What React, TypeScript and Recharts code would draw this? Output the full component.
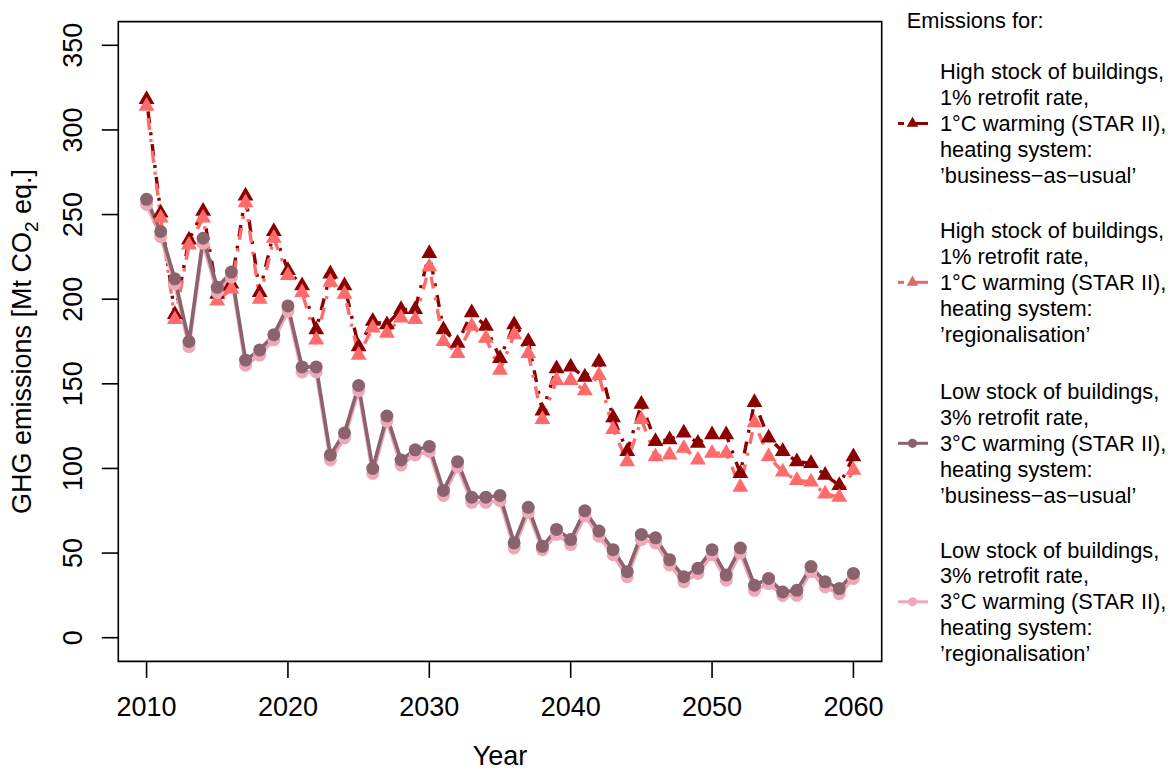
import { LineChart, Line, XAxis, YAxis, ReferenceArea } from "recharts";

// ---- data ----
const years = [
  2010, 2011, 2012, 2013, 2014, 2015, 2016, 2017, 2018, 2019,
  2020, 2021, 2022, 2023, 2024, 2025, 2026, 2027, 2028, 2029,
  2030, 2031, 2032, 2033, 2034, 2035, 2036, 2037, 2038, 2039,
  2040, 2041, 2042, 2043, 2044, 2045, 2046, 2047, 2048, 2049,
  2050, 2051, 2052, 2053, 2054, 2055, 2056, 2057, 2058, 2059, 2060,
];

// high stock, 1% retrofit, 1°C, business-as-usual
const highBau = [
  318, 251, 191, 235, 252, 203, 209, 261, 204, 240,
  217, 208, 182, 215, 208, 172, 187, 185, 194, 194,
  227, 182, 174, 192, 184, 165, 185, 175, 134, 159,
  160, 154, 163, 130, 110, 138, 116, 117, 121, 115,
  120, 120, 97, 139, 118, 110, 104, 103, 96, 90, 107,
];

// high stock, 1% retrofit, 1°C, regionalisation
const highReg = [
  314, 248, 188, 232, 248, 199, 206, 257, 200, 236,
  214, 204, 176, 210, 203, 167, 183, 180, 189, 188,
  219, 175, 168, 184, 177, 158, 179, 168, 129, 152,
  152, 146, 155, 123, 104, 129, 107, 108, 112, 105,
  109, 109, 89, 127, 107, 98, 93, 92, 85, 83, 99,
];

// low stock, 3% retrofit, 3°C, business-as-usual
const lowBau = [
  259, 240, 212, 175, 236, 207, 216, 164, 170, 179,
  196, 160, 160, 108, 121, 149, 100, 131, 105, 111,
  113, 87, 104, 83, 83, 84, 56, 77, 54, 64,
  58, 75, 63, 52, 39, 61, 59, 46, 36, 41,
  52, 37, 53, 31, 35, 27, 28, 42, 33, 29, 38,
];

// low stock, 3% retrofit, 3°C, regionalisation
const lowReg = [
  256, 237, 209, 172, 233, 204, 213, 161, 167, 176,
  193, 157, 157, 105, 118, 146, 97, 128, 102, 108,
  110, 84, 101, 80, 80, 81, 53, 74, 52, 61,
  55, 72, 60, 49, 36, 58, 56, 43, 33, 38,
  49, 34, 50, 28, 32, 25, 25, 39, 30, 26, 35,
];

const xTicks = [2010, 2020, 2030, 2040, 2050, 2060];
const yTicks = [0, 50, 100, 150, 200, 250, 300, 350];

const legendTitle = "Emissions for:";
const legendItems = [
  {
    lines: ["High stock of buildings,", "1% retrofit rate,", "1°C warming (STAR II),", "heating system:", "’business−as−usual’"],
    color: "#8B0000",
    shape: "triangle",
  },
  {
    lines: ["High stock of buildings,", "1% retrofit rate,", "1°C warming (STAR II),", "heating system:", "’regionalisation’"],
    color: "#DE6A6A",
    shape: "triangle",
  },
  {
    lines: ["Low stock of buildings,", "3% retrofit rate,", "3°C warming (STAR II),", "heating system:", "’business−as−usual’"],
    color: "#8B636C",
    shape: "circle",
  },
  {
    lines: ["Low stock of buildings,", "3% retrofit rate,", "3°C warming (STAR II),", "heating system:", "’regionalisation’"],
    color: "#EEA9B8",
    shape: "circle",
  },
];

const data = years.map((year, i) => ({
  year,
  highBau: highBau[i],
  highReg: highReg[i],
  lowBau: lowBau[i],
  lowReg: lowReg[i],
}));

const FONT = "'Liberation Sans', Arial, Helvetica, sans-serif";
const DOTDASH = "3 9 12 9";

function triPoints(cx: number, cy: number, s: number) {
  const r = 1.555 * s;
  const xc = 1.347 * s;
  const yc = 0.778 * s;
  return `${cx},${cy - r} ${cx + xc},${cy + yc} ${cx - xc},${cy + yc}`;
}

const triangleDot = (color: string) => (props: any) => {
  const { cx, cy, index } = props;
  if (cx == null || cy == null) return <g key={index} />;
  return <polygon key={index} points={triPoints(cx, cy, 5.9)} fill={color} />;
};

const circleDot = (color: string) => (props: any) => {
  const { cx, cy, index } = props;
  if (cx == null || cy == null) return <g key={index} />;
  return <circle key={index} cx={cx} cy={cy} r={6.5} fill={color} />;
};

const YTick = ({ x, y, payload }: any) => (
  <text
    x={x}
    y={y}
    transform={`rotate(-90 ${x} ${y})`}
    textAnchor="middle"
    fontSize={27}
    fontFamily={FONT}
    fill="#000"
  >
    {payload.value}
  </text>
);

const XTick = ({ x, y, payload }: any) => (
  <text x={x} y={y} dy={19.2} textAnchor="middle" fontSize={27} fontFamily={FONT} fill="#000">
    {payload.value}
  </text>
);

function LegendBlock() {
  const lineH = 25.9;
  const blockTops = [71.7, 230.5, 391.5, 550];
  return (
    <g fontFamily={FONT} fontSize={21.8} fill="#000">
      <text x={906.7} y={27.5}>{legendTitle}</text>
      {legendItems.map((item, k) => {
        const top = blockTops[k];
        const sy = top + 2 * lineH;
        return (
          <g key={k}>
            {item.lines.map((t, j) => (
              <text key={j} x={940} y={top + j * lineH + 7.5}>
                {t}
              </text>
            ))}
            {item.shape === "triangle" ? (
              <g>
                <line x1={898} y1={sy} x2={904} y2={sy} stroke={item.color} strokeWidth={3} />
                <line x1={913} y1={sy} x2={928} y2={sy} stroke={item.color} strokeWidth={3} />
                <polygon points={triPoints(912.5, sy, 4.3)} fill={item.color} />
              </g>
            ) : (
              <g>
                <line x1={898} y1={sy} x2={928} y2={sy} stroke={item.color} strokeWidth={3} />
                <circle cx={912.5} cy={sy} r={4.6} fill={item.color} />
              </g>
            )}
          </g>
        );
      })}
    </g>
  );
}

export default function App() {
  return (
    <div style={{ position: "absolute", left: 0, top: 0, width: 1173, height: 770, background: "#fff" }}>
      <LineChart
        width={1173}
        height={770}
        data={data}
        margin={{ top: 21.6, right: 291.3, bottom: 48.6, left: 58.3 }}
      >
        <XAxis
          dataKey="year"
          type="number"
          domain={[2008, 2062]}
          ticks={xTicks}
          allowDataOverflow
          height={60}
          axisLine={false}
          tickLine={{ stroke: "#000", strokeWidth: 1.6 }}
          tickSize={16.5}
          tickMargin={19}
          tick={<XTick />}
        />
        <YAxis
          type="number"
          domain={[-14, 364]}
          ticks={yTicks}
          allowDataOverflow
          width={60}
          axisLine={false}
          tickLine={{ stroke: "#000", strokeWidth: 1.6 }}
          tickSize={16.5}
          tickMargin={20}
          tick={<YTick />}
        />
        <ReferenceArea
          x1={2008}
          x2={2062}
          y1={-14}
          y2={364}
          fill="none"
          fillOpacity={0}
          stroke="#000"
          strokeWidth={1.6}
          ifOverflow="visible"
        />
        <Line
          dataKey="highBau"
          stroke="#8B0000"
          strokeWidth={3.4}
          strokeDasharray={DOTDASH}
          dot={triangleDot("#8B0000")}
          activeDot={false}
          isAnimationActive={false}
        />
        <Line
          dataKey="highReg"
          stroke="#FF6A6A"
          strokeWidth={3.4}
          strokeDasharray={DOTDASH}
          dot={triangleDot("#FF6A6A")}
          activeDot={false}
          isAnimationActive={false}
        />
        <Line
          dataKey="lowReg"
          stroke="#EEA9B8"
          strokeWidth={3.6}
          dot={circleDot("#EEA9B8")}
          activeDot={false}
          isAnimationActive={false}
        />
        <Line
          dataKey="lowBau"
          stroke="#8B636C"
          strokeWidth={3.6}
          dot={circleDot("#8B636C")}
          activeDot={false}
          isAnimationActive={false}
        />
      </LineChart>
      <svg
        width={1173}
        height={770}
        style={{ position: "absolute", left: 0, top: 0, pointerEvents: "none" }}
      >
        <text
          transform="translate(31 341.5) rotate(-90)"
          textAnchor="middle"
          fontSize={27}
          fontFamily={FONT}
          fill="#000"
        >
          GHG emissions [Mt CO
          <tspan dy={7} fontSize={19}>2</tspan>
          <tspan dy={-7}> eq.]</tspan>
        </text>
        <text x={500} y={765} textAnchor="middle" fontSize={27} fontFamily={FONT} fill="#000">
          Year
        </text>
        <LegendBlock />
      </svg>
    </div>
  );
}
